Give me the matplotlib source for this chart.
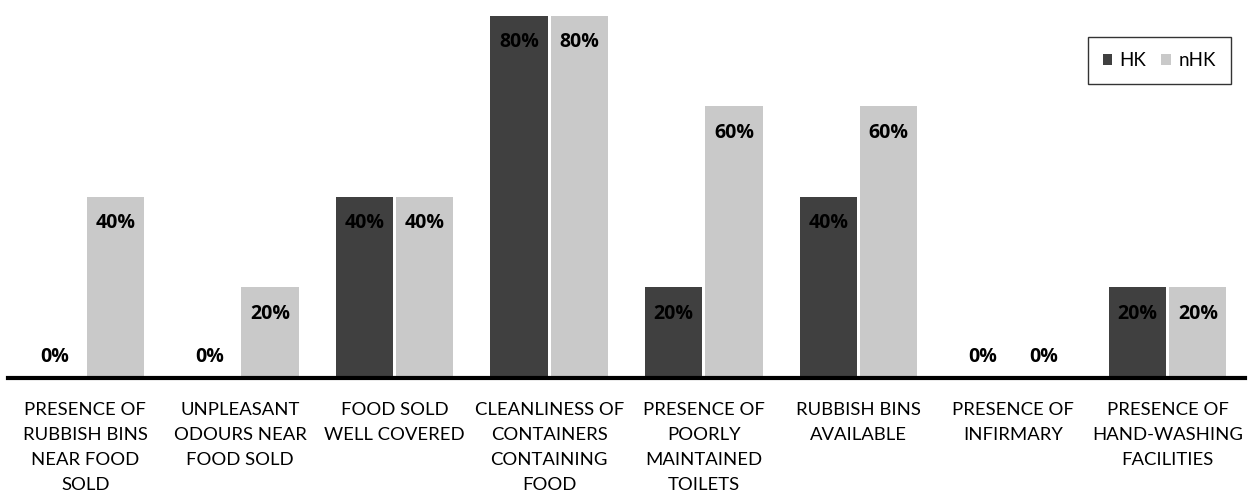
import matplotlib.pyplot as plt
import numpy as np

categories = [
    'PRESENCE OF\nRUBBISH BINS\nNEAR FOOD\nSOLD',
    'UNPLEASANT\nODOURS NEAR\nFOOD SOLD',
    'FOOD SOLD\nWELL COVERED',
    'CLEANLINESS OF\nCONTAINERS\nCONTAINING\nFOOD',
    'PRESENCE OF\nPOORLY\nMAINTAINED\nTOILETS',
    'RUBBISH BINS\nAVAILABLE',
    'PRESENCE OF\nINFIRMARY',
    'PRESENCE OF\nHAND-WASHING\nFACILITIES',
]
hk = [0, 0, 40, 80, 20, 40, 0, 20]
nhk = [40, 20, 40, 80, 60, 60, 0, 20]

plt.rcParams['font.family'] = ['Lato', 'DejaVu Sans']

fig = plt.figure(figsize=(12.52, 5.04), dpi=100)
ax = fig.add_axes([8 / 1252, 126 / 504, 1237 / 1252, 368 / 504])

x = np.arange(len(categories))
w = 0.37
gap = 0.01
b1 = ax.bar(x - w / 2 - gap, hk, w, color='#404040', label='HK')
b2 = ax.bar(x + w / 2 + gap, nhk, w, color='#c9c9c9', label='nHK')

# value labels inside the top of each bar, above the axis for zeros
for bars, vals in ((b1, hk), (b2, nhk)):
    for rect, v in zip(bars, vals):
        cx = rect.get_x() + rect.get_width() / 2
        off = 15 if v == 0 else -19
        ax.annotate(f'{v}%', (cx, v), xytext=(0, off), textcoords='offset points',
                    ha='center', va='center', fontsize=14, fontweight='bold',
                    family='Open Sans')

ax.set_xlim(-0.5, len(categories) - 0.5)
ax.set_ylim(0, 81.3)
ax.set_xticks(x)
ax.set_xticklabels(categories, fontsize=13.3, linespacing=1.7, va='top')
ax.tick_params(axis='x', length=0, pad=17)
ax.set_yticks([])
for s in ('top', 'right', 'left'):
    ax.spines[s].set_visible(False)
ax.spines['bottom'].set_linewidth(3)
ax.spines['bottom'].set_color('black')

leg = ax.legend(loc='upper right', bbox_to_anchor=(1232 / 1237, 1 - 18 / 368), ncol=2,
                fontsize=13.5, frameon=True, fancybox=False, handlelength=0.5,
                handleheight=0.5, handletextpad=0.4, columnspacing=0.8,
                borderpad=0.8)
leg.get_frame().set_edgecolor('black')
leg.get_frame().set_linewidth(1)

plt.savefig('out.png', dpi=100)
